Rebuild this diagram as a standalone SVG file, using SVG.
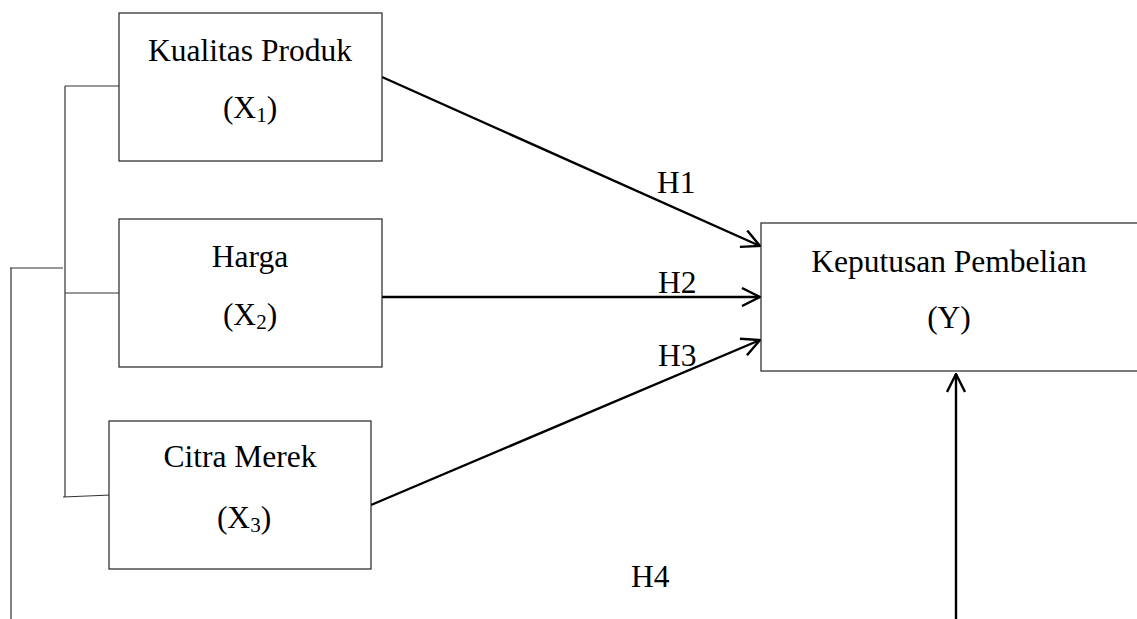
<svg xmlns="http://www.w3.org/2000/svg" width="1137" height="619" viewBox="0 0 1137 619">
<style>
.box{fill:#fff;stroke:#222;stroke-width:1.2}
.t{font-family:"Liberation Serif","Times New Roman",serif;font-size:31.5px;fill:#000;text-anchor:middle}
.lbl{font-family:"Liberation Serif","Times New Roman",serif;font-size:31.5px;fill:#000}
.sub{font-size:21px}
.thin{stroke:#333;stroke-width:1.2;fill:none}
.arr{stroke:#000;stroke-width:2.4;fill:none;marker-end:url(#ah)}
</style>
<defs>
<marker id="ah" viewBox="0 0 20 20" refX="19" refY="10" markerWidth="20" markerHeight="20" markerUnits="userSpaceOnUse" orient="auto">
<path d="M1,1 L19,10 L1,19" fill="none" stroke="#000" stroke-width="2.4"/>
</marker>
</defs>
<rect width="1137" height="619" fill="#fff"/>
<g id="connectors">
<path class="thin" d="M65,86 L119,86 M65,86 L65,497 M65,293 L120,293 M63,497 L111,495 M10,268 L63,268 M11,268 L11,619"/>
<line class="arr" x1="382" y1="77" x2="760" y2="246"/>
<line class="arr" x1="382" y1="297" x2="760" y2="297"/>
<line class="arr" x1="371" y1="505" x2="760" y2="340"/>
<line class="arr" x1="956" y1="619" x2="956" y2="374"/>
<text class="lbl" x="657" y="193">H1</text>
<text class="lbl" x="658" y="293">H2</text>
<text class="lbl" x="658" y="366">H3</text>
<text class="lbl" x="631" y="587">H4</text>
</g>
<g id="x1">
<rect class="box" x="119" y="13" width="263" height="148"/>
<text class="t" x="250" y="61">Kualitas Produk</text>
<text class="t" x="250" y="118">(X<tspan class="sub" dy="4">1</tspan><tspan dy="-4">)</tspan></text>
</g>
<g id="x2">
<rect class="box" x="119" y="219" width="263" height="148"/>
<text class="t" x="250" y="267">Harga</text>
<text class="t" x="250" y="325">(X<tspan class="sub" dy="4">2</tspan><tspan dy="-4">)</tspan></text>
</g>
<g id="x3">
<rect class="box" x="109" y="421" width="262" height="148"/>
<text class="t" x="240" y="467">Citra Merek</text>
<text class="t" x="244" y="528">(X<tspan class="sub" dy="4">3</tspan><tspan dy="-4">)</tspan></text>
</g>
<g id="y">
<rect class="box" x="761" y="223" width="380" height="148"/>
<text class="t" x="949" y="272">Keputusan Pembelian</text>
<text class="t" x="949" y="328">(Y)</text>
</g>
</svg>
